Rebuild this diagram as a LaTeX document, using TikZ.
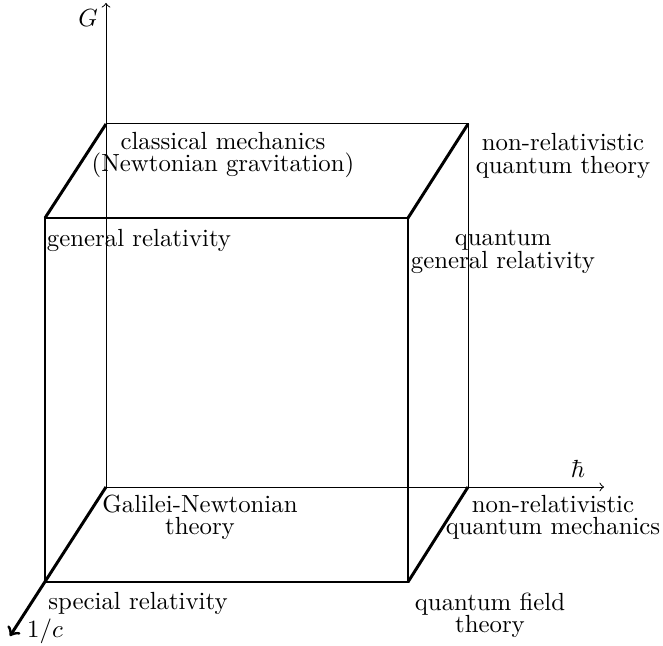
\documentclass[tikz,border=0pt]{standalone}
\begin{document}
\begin{tikzpicture}[x=0.4032pt,y=-0.4032pt,
  thinline/.style={line width=0.4pt},
  thickline/.style={line width=1.2pt},
  lbl/.style={align=center,inner sep=0pt,font=\fontsize{10}{9}\selectfont}]
\useasboundingbox (0,0) rectangle (663,646);
% corners
\coordinate (b1) at (106,487);
\coordinate (b2) at (468,487);
\coordinate (b3) at (468,124);
\coordinate (b4) at (106,124);
\coordinate (f1) at (45,582);
\coordinate (f2) at (408,582);
\coordinate (f3) at (408,218);
\coordinate (f4) at (45,218);
\coordinate (Gend) at (106,3);
\coordinate (hend) at (604,487);
\coordinate (cend) at (10,636);
% back thin edges and axes
\draw[thinline,->] (b1) -- (Gend);
\draw[thinline,->] (b1) -- (hend);
\draw[thinline] (b4) -- (b3) -- (b2);
% front thick
\draw[thickline] (f1) -- (f2) -- (f3) -- (f4) -- cycle;
\draw[thickline] (b4) -- (f4);
\draw[thickline] (b3) -- (f3);
\draw[thickline] (b2) -- (f2);
\draw[thickline,->] (b1) -- (cend);
% labels
\node[lbl] (G) at (88,18) {$G$};
\node[lbl] (hbar) at (578,469) {$\hbar$};
\node[lbl] (c) at (45,631) {$1/c$};
\node[lbl] (cm) at (223,155) {classical mechanics\\(Newtonian gravitation)};
\node[lbl] (nrqt) at (563,156) {non-relativistic\\quantum theory};
\node[lbl] (gr) at (139,240) {general relativity};
\node[lbl] (qgr) at (503,252) {quantum\\general relativity};
\node[lbl] (gn) at (200,517) {Galilei-Newtonian\\theory};
\node[lbl] (nrqm) at (553,517) {non-relativistic\\quantum mechanics};
\node[lbl] (sr) at (138,603) {special relativity};
\node[lbl] (qft) at (490,615) {quantum field\\theory};
\end{tikzpicture}
\end{document}
